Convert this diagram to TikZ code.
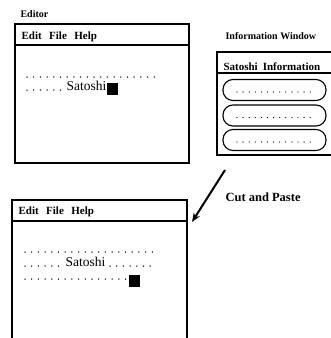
\documentclass[tikz,border=0pt]{standalone}
\usepackage{fontspec}
\setmainfont{Liberation Serif}
\usetikzlibrary{arrows.meta}
\begin{document}
\begin{tikzpicture}[x=1pt,y=-1pt,line width=1.1pt,
	lbl/.style={inner sep=0pt,anchor=base west,font=\bfseries\fontsize{10}{12}\selectfont},
	menu/.style={lbl,font=\bfseries\fontsize{11}{13}\selectfont},
	sat/.style={inner sep=0pt,anchor=base west,font=\fontsize{13.5}{15}\selectfont},
	dots/.style={line width=1.5pt,line cap=round,dash pattern=on 0pt off 6.7pt},
	pdots/.style={line width=1.3pt,line cap=round,dash pattern=on 0pt off 6.1pt},
	cursor/.style={fill=black,inner sep=0pt,minimum width=11pt,minimum height=12pt},
	pill/.style={draw,rounded corners=10pt,minimum width=103pt,minimum height=21pt,inner sep=0pt}]
	\useasboundingbox (0,0) rectangle (330,338);
	%编辑器(上)
	\node[lbl] (edTitle) at (20,17.5) {Editor};
	\draw (15,24) rectangle (189,163);
	\draw (15,45) -- (189,45);
	\node[menu] (menuA) at (21,39) {Edit\hspace{7.5pt}File\hspace{7.5pt}Help};
	\draw [dots] (27,77) -- (157,77);
	\draw [dots] (27,90) -- (62,90);
	\node[sat] (satA) at (66,90) {Satoshi};
	\node[cursor] (curA) at (112.5,89) {};
	%信息窗口
	\node[lbl] (infTitle) at (225,39) {Information Window};
	\draw (217,52) rectangle (345,155);
	\draw (217,73) -- (345,73);
	\node[menu] (infHead) at (223,70) {Satoshi\hspace{5pt}Information};
	\foreach \y/\n in {90/1,115.5/2,140/3}
	{
		\node[pill] (item\n) at (274.5,\y) {};
		\draw [pdots] (237,\y+2) -- (311,\y+2);
	}
	%箭头
	\coordinate (cutS) at (225,170);
	\coordinate (cutE) at (192,222);
	\draw [line width=2pt,-{Stealth[length=9pt,width=7pt]}] (cutS) -- (cutE);
	\node[lbl,font=\bfseries\fontsize{12.5}{14}\selectfont] (cutLbl) at (225,201) {Cut and Paste};
	%编辑器(下)
	\draw (12,345) -- (12,200) -- (187,200) -- (187,345);
	\draw (12,221) -- (187,221);
	\node[menu] (menuB) at (18,214) {Edit\hspace{7.5pt}File\hspace{7.5pt}Help};
	\draw [dots] (25,252) -- (155,252);
	\draw [dots] (25,266) -- (60,266);
	\node[sat] (satB) at (65,266) {Satoshi};
	\draw [dots] (110,266) -- (152,266);
	\draw [dots] (25,279) -- (126,279);
	\node[cursor] (curB) at (134,281) {};
\end{tikzpicture}
\end{document}
